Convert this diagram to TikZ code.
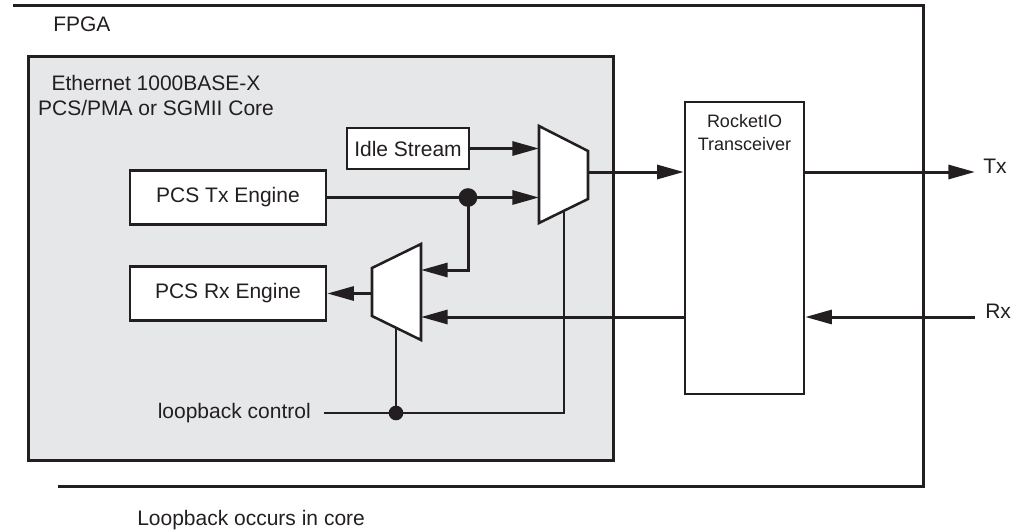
\documentclass[tikz,border=0pt]{standalone}
\usepackage{fontspec}
\setmainfont{Liberation Sans}
\usetikzlibrary{positioning,arrows.meta}
\definecolor{ink}{HTML}{231F20}
\definecolor{coregray}{HTML}{E6E7E9}

\begin{document}
\begin{tikzpicture}[x=0.75pt, y=-0.75pt,
			txt/.style={font=\fontsize{15.75}{18.75}\selectfont, text=ink},
			box/.style={draw=ink, line width=1.9pt, fill=white, txt, inner sep=0pt},
			corebox/.style={draw=ink, line width=1.9pt, fill=coregray, anchor=north west},
			bus/.style={draw=ink, line width=2.25pt},
			arrow/.style={bus, -{Triangle[length=20pt, width=10.5pt]}},
			ctl/.style={draw=ink, line width=0.9pt},
			mux/.style={draw=ink, line width=1.9pt, fill=white, line join=miter},
			dot/.style={fill=ink}]
			
			\useasboundingbox (0,0) rectangle (1023,531);
			
			\draw[bus] (13,6) -- (923,6) -- (923,486) -- (58,486);
			\node[txt, anchor=base west, inner sep=0pt] (fpga) at (53,32) {FPGA};
			\node[txt, anchor=base west, inner sep=0pt] (note) at (137,525) {Loopback occurs in core};
			
			\node[corebox, minimum width=438.75pt, minimum height=303pt] (core) at (27,55) {};
			\node[txt, align=center, anchor=north, inner sep=0pt] (coretitle) at (156,75) {Ethernet 1000BASE-X\\PCS/PMA or SGMII Core};
			
			\node[box, minimum width=91.5pt, minimum height=30.75pt] (idle) at (408,148.5) {Idle Stream};
			\node[box, minimum width=147pt, minimum height=40.5pt] (txeng) at (228,197.5) {PCS Tx Engine};
			\node[box, minimum width=147pt, minimum height=40.5pt] (rxeng) at (228,293.5) {PCS Rx Engine};
			\node[box, minimum width=89.25pt, minimum height=219pt] (trx) at (744.5,248) {};
			\node[font=\fontsize{13.5}{17.25}\selectfont, text=ink, align=center, anchor=north, inner sep=0pt] (trxname) at ([yshift=-9.75pt]trx.north) {RocketIO\\Transceiver};
			
			\coordinate (tmuxa) at (539,148.5);
			\coordinate (tmuxb) at (539,197.5);
			\coordinate (tmuxo) at (588,172);
			\coordinate (tmuxs) at (564,210.8);
			\coordinate (bmuxa) at (421,270);
			\coordinate (bmuxb) at (421,317);
			\coordinate (bmuxo) at (372,293.5);
			\coordinate (bmuxs) at (396,327.8);
			\coordinate (split) at (468,197.5);
			\coordinate (txend) at (975,172);
			\coordinate (rxstart) at (975,317);
			
			\node[txt, anchor=base west, inner sep=0pt] (tx) at (983,173) {Tx};
			\node[txt, anchor=base west, inner sep=0pt] (rx) at (985,318) {Rx};
			
			\node[txt, anchor=east, inner xsep=9.75pt, inner ysep=0pt] (lbctl) at (324,413) {loopback control};
			\coordinate (ctljoin) at (396,413);
			
			\draw[ctl] (lbctl.east) -- (ctljoin) -- (tmuxs |- ctljoin) -- (tmuxs);
			\draw[ctl] (ctljoin) -- (bmuxs);
			\fill[dot] (ctljoin) circle (5.5pt);
			
			\draw[mux] (539,126) -- (588,151) -- (588,199) -- (539,223) -- cycle;
			\draw[mux] (372,268) -- (421,244) -- (421,340) -- (372,316) -- cycle;
			
			\draw[arrow] (idle) -- (tmuxa);
			\draw[bus] (txeng) -- (split);
			\draw[arrow] (split) -- (tmuxb);
			\draw[arrow] (split) |- (bmuxa);
			\fill[dot] (split) circle (7pt);
			\draw[arrow] (bmuxo) -- (rxeng);
			\draw[arrow] (tmuxo) -- (tmuxo -| trx.west);
			\draw[arrow] (tmuxo -| trx.east) -- (txend);
			\draw[arrow] (rxstart) -- (rxstart -| trx.east);
			\draw[arrow] (bmuxb -| trx.west) -- (bmuxb);
			
		\end{tikzpicture}
\end{document}
